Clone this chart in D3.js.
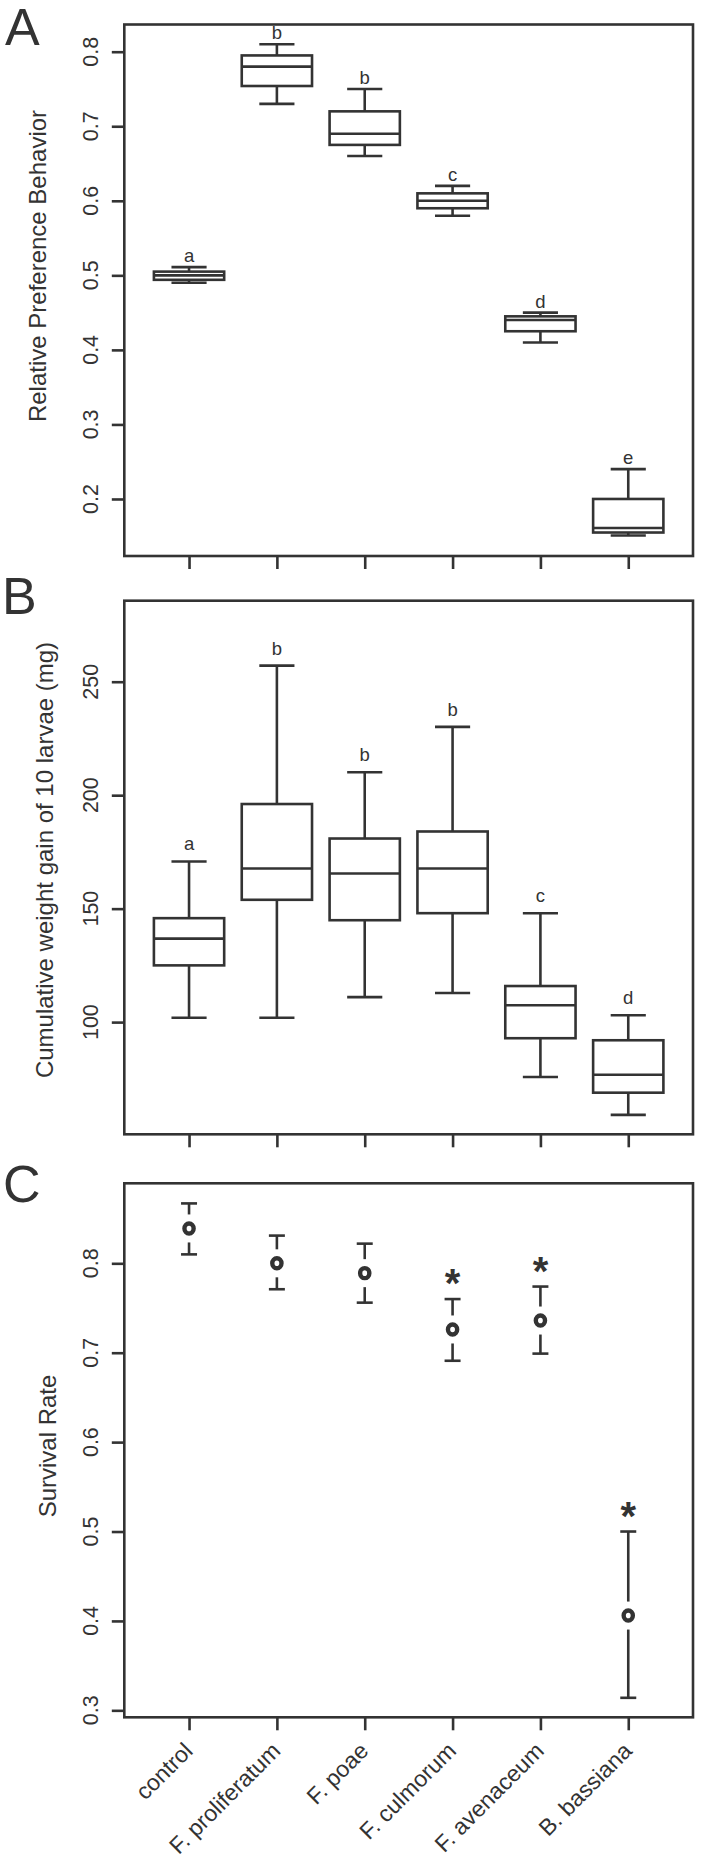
<!DOCTYPE html>
<html>
<head>
<meta charset="utf-8">
<script src="https://cdn.jsdelivr.net/npm/d3@7"></script>
<style>
html, body { margin: 0; padding: 0; background: #fff; }
svg text { font-family: "Liberation Sans", Arial, sans-serif; fill: #333; }
</style>
</head>
<body>
<svg id="chart" width="701" height="1872"></svg>
<script>
// ---------- data ----------
const categories = ["control", "F. proliferatum", "F. poae", "F. culmorum", "F. avenaceum", "B. bassiana"];

// Panel A: Relative Preference Behavior (boxplot)
const prefLow  = [0.490, 0.730, 0.660, 0.580, 0.410, 0.151];
const prefQ1   = [0.494, 0.754, 0.675, 0.590, 0.425, 0.155];
const prefMed  = [0.500, 0.780, 0.690, 0.600, 0.440, 0.161];
const prefQ3   = [0.505, 0.795, 0.720, 0.610, 0.445, 0.200];
const prefHigh = [0.511, 0.810, 0.750, 0.620, 0.450, 0.240];
const prefLetters = ["a", "b", "b", "c", "d", "e"];
const prefTicks = [0.2, 0.3, 0.4, 0.5, 0.6, 0.7, 0.8];

// Panel B: Cumulative weight gain (boxplot)
const gainLow  = [101.9, 101.9, 111.0, 112.8, 75.8, 59.1];
const gainQ1   = [125.0, 153.9, 144.9, 148.0, 92.9, 68.9];
const gainMed  = [136.8, 167.7, 165.5, 167.7, 107.4, 76.8];
const gainQ3   = [145.8, 196.1, 180.9, 184.0, 115.9, 92.0];
const gainHigh = [170.8, 257.1, 210.1, 230.1, 148.0, 103.0];
const gainLetters = ["a", "b", "b", "b", "c", "d"];
const gainTicks = [100, 150, 200, 250];

// Panel C: Survival rate (point + CI)
const survMean  = [0.839, 0.800, 0.789, 0.726, 0.736, 0.406];
const survLower = [0.810, 0.771, 0.756, 0.691, 0.699, 0.314];
const survUpper = [0.867, 0.831, 0.822, 0.760, 0.774, 0.500];
const survSignif = ["", "", "", "*", "*", "*"];
const survTicks = [0.3, 0.4, 0.5, 0.6, 0.7, 0.8];

// ---------- layout ----------
const INK = "#333";
const LW = 2.6;
const svg = d3.select("#chart");
svg.append("rect").attr("width", 701).attr("height", 1872).attr("fill", "#fff");

const plotLeft = 124.3, plotRight = 693;
const x = d3.scalePoint().domain(categories).range([plotLeft, plotRight]).padding(0.737);
const step = x.step();

const panels = [
  { letter: "A", top: 24.5, bottom: 556, domain: [0.1235, 0.8365], ticks: prefTicks, fmt: d3.format(".1f"),
    title: "Relative Preference Behavior", titleX: 46, titleY: 266, letterY: 45, letterX: 5 },
  { letter: "B", top: 600.7, bottom: 1134.3, domain: [50.56, 285.7], ticks: gainTicks, fmt: d3.format("d"),
    title: "Cumulative weight gain of 10 larvae (mg)", titleX: 53, titleY: 860, letterY: 614, letterX: 2 },
  { letter: "C", top: 1183.3, bottom: 1717.3, domain: [0.2922, 0.8895], ticks: survTicks, fmt: d3.format(".1f"),
    title: "Survival Rate", titleX: 56, titleY: 1446, letterY: 1202, letterX: 3 }
];

panels.forEach(p => {
  p.y = d3.scaleLinear().domain(p.domain).range([p.bottom, p.top]);
  const g = svg.append("g");
  // frame
  g.append("rect")
    .attr("x", plotLeft).attr("y", p.top)
    .attr("width", plotRight - plotLeft).attr("height", p.bottom - p.top)
    .attr("fill", "none").attr("stroke", INK).attr("stroke-width", LW);

  // y axis
  const yAxis = d3.axisLeft(p.y).tickValues(p.ticks).tickSize(12.5).tickFormat("");
  const ya = g.append("g").attr("transform", `translate(${plotLeft},0)`).call(yAxis);
  ya.select(".domain").remove();
  ya.selectAll(".tick line").attr("stroke", INK).attr("stroke-width", LW);
  g.selectAll(".ytl").data(p.ticks).join("text")
    .attr("class", "ytl")
    .attr("transform", d => `translate(98,${p.y(d)}) rotate(-90)`)
    .attr("text-anchor", "middle")
    .attr("font-size", 21.5)
    .text(d => p.fmt(d));

  // x axis ticks
  const xAxis = d3.axisBottom(x).tickSize(13).tickFormat("");
  const xa = g.append("g").attr("transform", `translate(0,${p.bottom})`).call(xAxis);
  xa.select(".domain").remove();
  xa.selectAll(".tick line").attr("stroke", INK).attr("stroke-width", LW);

  // axis title
  g.append("text")
    .attr("transform", `translate(${p.titleX},${p.titleY}) rotate(-90)`)
    .attr("text-anchor", "middle")
    .attr("font-size", 24)
    .text(p.title);

  // panel letter
  g.append("text")
    .attr("x", p.letterX).attr("y", p.letterY)
    .attr("font-size", 52)
    .text(p.letter);
});

// ---------- boxplots ----------
function drawBoxes(p, low, q1, med, q3, high, letters, letterOffset) {
  const y = p.y;
  const bw = step * 0.8, sw = step * 0.4;
  const data = categories.map((c, i) => ({ c, low: low[i], q1: q1[i], med: med[i], q3: q3[i], high: high[i], lab: letters[i] }));
  const g = svg.append("g").attr("stroke", INK).attr("stroke-width", LW).attr("fill", "none");
  const b = g.selectAll("g.box").data(data).join("g").attr("class", "box");
  // whiskers
  b.append("line").attr("x1", d => x(d.c)).attr("x2", d => x(d.c)).attr("y1", d => y(d.high)).attr("y2", d => y(d.q3));
  b.append("line").attr("x1", d => x(d.c)).attr("x2", d => x(d.c)).attr("y1", d => y(d.low)).attr("y2", d => y(d.q1));
  // staples
  b.append("line").attr("x1", d => x(d.c) - sw / 2).attr("x2", d => x(d.c) + sw / 2).attr("y1", d => y(d.high)).attr("y2", d => y(d.high));
  b.append("line").attr("x1", d => x(d.c) - sw / 2).attr("x2", d => x(d.c) + sw / 2).attr("y1", d => y(d.low)).attr("y2", d => y(d.low));
  // box
  b.append("rect").attr("x", d => x(d.c) - bw / 2).attr("width", bw)
    .attr("y", d => y(d.q3)).attr("height", d => y(d.q1) - y(d.q3)).attr("fill", "#fff");
  // median
  b.append("line").attr("x1", d => x(d.c) - bw / 2).attr("x2", d => x(d.c) + bw / 2).attr("y1", d => y(d.med)).attr("y2", d => y(d.med));
  // letters
  svg.append("g").selectAll("text").data(data).join("text")
    .attr("x", d => x(d.c)).attr("y", d => y(d.high) - letterOffset)
    .attr("text-anchor", "middle").attr("font-size", 18.5)
    .text(d => d.lab);
}
drawBoxes(panels[0], prefLow, prefQ1, prefMed, prefQ3, prefHigh, prefLetters, 5);
drawBoxes(panels[1], gainLow, gainQ1, gainMed, gainQ3, gainHigh, gainLetters, 11);

// ---------- survival CI plot ----------
(function () {
  const p = panels[2], y = p.y;
  const gap = 14, cw = 8;
  const data = categories.map((c, i) => ({ c, m: survMean[i], lo: survLower[i], hi: survUpper[i], s: survSignif[i] }));
  const g = svg.append("g").attr("stroke", INK).attr("stroke-width", LW).attr("fill", "none");
  const e = g.selectAll("g.ci").data(data).join("g").attr("class", "ci");
  e.filter(d => y(d.m) - gap > y(d.hi)).append("line")
    .attr("x1", d => x(d.c)).attr("x2", d => x(d.c)).attr("y1", d => y(d.hi)).attr("y2", d => y(d.m) - gap);
  e.filter(d => y(d.m) + gap < y(d.lo)).append("line")
    .attr("x1", d => x(d.c)).attr("x2", d => x(d.c)).attr("y1", d => y(d.lo)).attr("y2", d => y(d.m) + gap);
  e.append("line").attr("x1", d => x(d.c) - cw).attr("x2", d => x(d.c) + cw).attr("y1", d => y(d.hi)).attr("y2", d => y(d.hi));
  e.append("line").attr("x1", d => x(d.c) - cw).attr("x2", d => x(d.c) + cw).attr("y1", d => y(d.lo)).attr("y2", d => y(d.lo));
  e.append("ellipse").attr("cx", d => x(d.c)).attr("cy", d => y(d.m)).attr("rx", 4.6).attr("ry", 5)
    .attr("stroke-width", 4.4);
  svg.append("g").selectAll("text").data(data.filter(d => d.s)).join("text")
    .attr("x", d => x(d.c)).attr("y", d => y(d.hi) - 2)
    .attr("text-anchor", "middle").attr("font-size", 40).attr("font-weight", "bold")
    .text(d => d.s);

  // rotated category labels
  svg.append("g").selectAll("text").data(categories).join("text")
    .attr("transform", d => `translate(${x(d) + 5},${p.bottom + 35}) rotate(-45)`)
    .attr("text-anchor", "end")
    .attr("font-size", 23)
    .text(d => d);
})();
</script>
</body>
</html>
